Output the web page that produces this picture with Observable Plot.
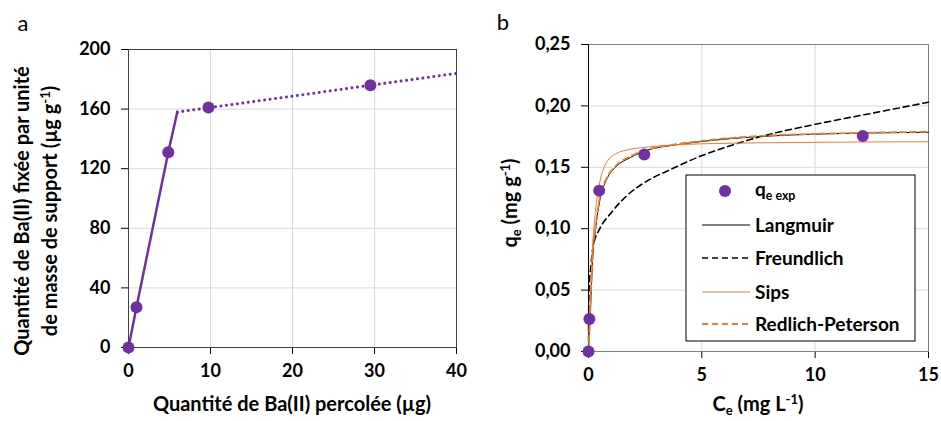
<!DOCTYPE html>
<html><head><meta charset="utf-8">
<script src="https://cdn.jsdelivr.net/npm/d3@7"></script>
<script src="https://cdn.jsdelivr.net/npm/@observablehq/plot@0.6"></script>
<style>
body{margin:0;background:#fff;}
#wrap{position:relative;width:941px;height:421px;font-family:Lato,sans-serif;}
#a{position:absolute;left:0;top:0;}
#b{position:absolute;left:470px;top:0;}
</style></head><body><div id="wrap"><div id="a"></div><div id="b"></div></div>
<script>
// ---------- Panel a data ----------
const percolX = [0, 0.97, 4.85, 9.75, 29.5];
const fixedY = [0, 27, 131, 161, 176];
const solidX = [0, 0.97, 4.85, 5.95];
const solidY = [0, 27, 131, 158];
const dottedX = [5.95, 40];
const dottedY = [158, 184];
const xTicksA = [0, 10, 20, 30, 40];
const yTicksA = [0, 40, 80, 120, 160, 200];

// ---------- Panel b data ----------
const ceExp = [0, 0.04, 0.47, 2.46, 12.1];
const qeExp = [0, 0.0264, 0.131, 0.1605, 0.1755];
const langC = [0, 0.075, 0.19, 0.3, 0.52, 0.8, 1.25, 1.85, 2.6, 3.75, 5, 7.5, 10, 12.5, 15];
const langQ = [0, 0.028, 0.078, 0.098, 0.125, 0.14, 0.151, 0.158, 0.164, 0.168, 0.171, 0.175, 0.177, 0.178, 0.1785];
const freuC = [0, 0.02, 0.1, 0.22, 0.5, 1, 1.7, 2.6, 3.6, 4.8, 6, 7.6, 10, 12.5, 15];
const freuQ = [0, 0.049, 0.069, 0.087, 0.1, 0.113, 0.127, 0.139, 0.148, 0.158, 0.166, 0.175, 0.185, 0.194, 0.203];
const sipsC = [0, 0.06, 0.15, 0.3, 0.5, 0.8, 1.2, 1.8, 2.6, 4, 6, 9, 12, 15];
const sipsQ = [0, 0.03, 0.075, 0.113, 0.138, 0.154, 0.161, 0.1645, 0.1665, 0.1685, 0.1695, 0.1702, 0.1706, 0.1708];
const rpC = [0, 0.07, 0.18, 0.3, 0.5, 0.8, 1.25, 1.85, 2.6, 3.75, 5, 7.5, 10, 12.5, 15];
const rpQ = [0, 0.03, 0.08, 0.1, 0.126, 0.141, 0.152, 0.159, 0.1645, 0.1685, 0.1715, 0.1755, 0.1772, 0.1782, 0.179];
const xTicksB = [0, 5, 10, 15];
const yTicksB = [0, 0.05, 0.10, 0.15, 0.20, 0.25];
const legendLabels = ["Langmuir", "Freundlich", "Sips", "Redlich-Peterson"];

const PURPLE = "#7030A0", ORANGE = "#ED7D31";
const zip = (xs, ys) => xs.map((x, i) => ({x, y: ys[i]}));
const frFmt = d3.formatLocale({decimal: ",", thousands: " ", grouping: [3], currency: ["", "€"]}).format(".2f");

const baseStyle = {fontFamily: "Lato, sans-serif", fontSize: "18px", fontWeight: "bold", color: "#000", background: "transparent", overflow: "visible"};

function addText(sel, x, y, rot, parts, opts = {}) {
  const size = opts.size || 20;
  const t = sel.append("text")
    .attr("transform", `translate(${x},${y}) rotate(${rot})`)
    .attr("text-anchor", opts.anchor || "middle")
    .attr("font-family", "Lato, sans-serif")
    .attr("font-size", size)
    .attr("font-weight", opts.weight || "bold")
    .attr("fill", "#000");
  let shift = 0, first = true;
  for (const p of parts) {
    const s = t.append("tspan").text(p.t);
    let target = 0;
    if (p.sup) { target = -7; s.attr("font-size", "0.65em"); }
    if (p.sub) { target = 4; s.attr("font-size", "0.65em"); }
    const base = first ? size * 0.36 : 0;
    if (target !== shift || first) s.attr("dy", base + target - shift);
    shift = target; first = false;
  }
  return t;
}

// ---------- Panel a ----------
const chartA = Plot.plot({
  width: 470, height: 421,
  marginLeft: 128, marginRight: 14, marginTop: 49, marginBottom: 74,
  style: baseStyle,
  x: {domain: [0, 40], ticks: xTicksA, tickSize: 7, tickPadding: 10, label: null},
  y: {domain: [0, 200], ticks: yTicksA, tickSize: 7, tickPadding: 11, label: null},
  marks: [
    Plot.gridX(xTicksA.slice(1, -1), {stroke: "#d9d9d9", strokeOpacity: 1, strokeWidth: 1}),
    Plot.gridY(yTicksA.slice(1, -1), {stroke: "#d9d9d9", strokeOpacity: 1, strokeWidth: 1}),
    Plot.frame({stroke: "#404040", strokeWidth: 1}),
    Plot.line(zip(solidX, solidY), {x: "x", y: "y", stroke: PURPLE, strokeWidth: 2.5}),
    Plot.line(zip(dottedX, dottedY), {x: "x", y: "y", stroke: PURPLE, strokeWidth: 3, strokeDasharray: "0.01,5.5", strokeLinecap: "round"}),
    Plot.dot(zip(percolX, fixedY), {x: "x", y: "y", r: 6, fill: PURPLE, stroke: "none"})
  ]
});
document.getElementById("a").appendChild(chartA);
const sa = d3.select(chartA);
addText(sa, 23, 23, 0, [{t: "a"}], {size: 22, weight: "normal"});
addText(sa, 22, 211, -90, [{t: "Quantité de Ba(II) fixée par unité"}]);
addText(sa, 50, 211, -90, [{t: "de masse de support (µg g"}, {t: "-1", sup: true}, {t: ")"}]);
addText(sa, 292, 404, 0, [{t: "Quantité de Ba(II) percolée (µg)"}]);

// ---------- Panel b ----------
const chartB = Plot.plot({
  width: 471, height: 421,
  marginLeft: 118, marginRight: 13, marginTop: 44, marginBottom: 70,
  style: baseStyle,
  x: {domain: [0, 15], ticks: xTicksB, tickSize: 7, tickPadding: 10, label: null},
  y: {domain: [0, 0.25], ticks: yTicksB, tickSize: 7, tickPadding: 11, tickFormat: frFmt, label: null},
  marks: [
    Plot.gridX(xTicksB.slice(1, -1), {stroke: "#d9d9d9", strokeOpacity: 1, strokeWidth: 1}),
    Plot.gridY(yTicksB.slice(1, -1), {stroke: "#d9d9d9", strokeOpacity: 1, strokeWidth: 1}),
    Plot.frame({stroke: "#7f7f7f", strokeWidth: 1}),
    Plot.ruleX([0], {stroke: "#000", strokeWidth: 1}),
    Plot.line(zip(freuC, freuQ), {x: "x", y: "y", stroke: "#000", strokeWidth: 1.6, strokeDasharray: "6,4", curve: "monotone-x"}),
    Plot.line(zip(langC, langQ), {x: "x", y: "y", stroke: "#000", strokeWidth: 1, curve: "monotone-x"}),
    Plot.line(zip(sipsC, sipsQ), {x: "x", y: "y", stroke: ORANGE, strokeWidth: 1, curve: "monotone-x"}),
    Plot.line(zip(rpC, rpQ), {x: "x", y: "y", stroke: ORANGE, strokeWidth: 1.8, strokeDasharray: "6,4", curve: "monotone-x"}),
    Plot.dot(zip(ceExp, qeExp), {x: "x", y: "y", r: 6, fill: PURPLE, stroke: "none"})
  ]
});
document.getElementById("b").appendChild(chartB);
const sb = d3.select(chartB);
addText(sb, 33, 22, 0, [{t: "b"}], {size: 22, weight: "normal"});
addText(sb, 40, 203, -90, [{t: "q"}, {t: "e", sub: true}, {t: " (mg g"}, {t: "-1", sup: true}, {t: ")"}]);
addText(sb, 288, 404, 0, [{t: "C"}, {t: "e", sub: true}, {t: " (mg L"}, {t: "-1", sup: true}, {t: ")"}]);

// legend
const lg = sb.append("g");
lg.append("rect").attr("x", 216).attr("y", 175).attr("width", 229).attr("height", 166)
  .attr("fill", "#fff").attr("stroke", "#000").attr("stroke-width", 1);
lg.append("circle").attr("cx", 255).attr("cy", 191).attr("r", 6).attr("fill", PURPLE);
addText(lg, 285, 189, 0, [{t: "q"}, {t: "e exp", sub: true}], {anchor: "start", size: 19});
const lstyles = [
  {stroke: "#000", w: 1, dash: null},
  {stroke: "#000", w: 1.6, dash: "6,4"},
  {stroke: ORANGE, w: 1, dash: null},
  {stroke: ORANGE, w: 1.8, dash: "6,4"}
];
const ly = [225, 258, 292, 324];
legendLabels.forEach((lab, i) => {
  const l = lg.append("line").attr("x1", 232).attr("x2", 280).attr("y1", ly[i]).attr("y2", ly[i])
    .attr("stroke", lstyles[i].stroke).attr("stroke-width", lstyles[i].w);
  if (lstyles[i].dash) l.attr("stroke-dasharray", lstyles[i].dash);
  addText(lg, 285, ly[i], 0, [{t: lab}], {anchor: "start", size: 19});
});
</script>
</body></html>
